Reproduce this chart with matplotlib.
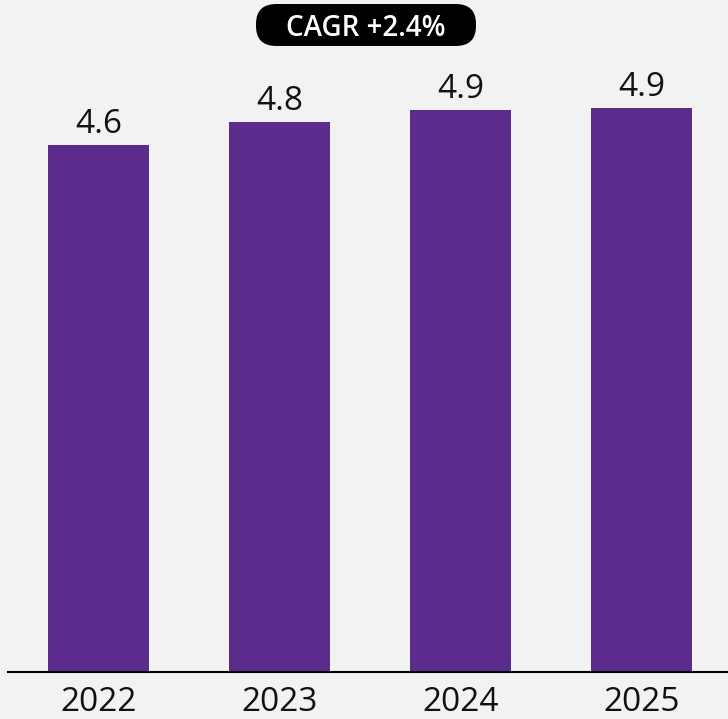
import matplotlib.pyplot as plt
from matplotlib.patches import FancyBboxPatch

# Yearly values and labels
years = ['2022', '2023', '2024', '2025']
values = [4.6, 4.8, 4.9, 4.92]
cagr_text = 'CAGR +2.4%'

BG = '#f2f2f2'
BAR_COLOR = '#5b2c8c'

plt.rcParams['font.family'] = ['Open Sans', 'DejaVu Sans']

fig = plt.figure(figsize=(7.28, 7.19), dpi=100, facecolor=BG)
ax = fig.add_axes([8 / 728, 47 / 719, 720 / 728, 672 / 719])
ax.set_facecolor(BG)

x = list(range(len(years)))
bars = ax.bar(x, values, width=0.558, color=BAR_COLOR, zorder=2)

for rect, v in zip(bars, values):
    ax.annotate(f'{v:.1f}', (rect.get_x() + rect.get_width() / 2, v),
                xytext=(0, 3), textcoords='offset points',
                ha='center', va='bottom', fontsize=24, color='#111111')

ax.set_xlim(-0.5, 3.478)
ax.set_ylim(0, 672 / 114.6)

ax.set_xticks(x)
ax.set_xticklabels(years, fontsize=24, color='#111111')
ax.tick_params(axis='x', length=0, pad=10)
ax.set_yticks([])

for side in ['top', 'right', 'left']:
    ax.spines[side].set_visible(False)
ax.spines['bottom'].set_color('black')
ax.spines['bottom'].set_linewidth(1.5)

# Growth badge above the bars
pill = FancyBboxPatch((256 / 728, 1 - 46 / 719), 220 / 728, 42 / 719,
                      boxstyle='round,pad=0,rounding_size=0.028',
                      transform=fig.transFigure, facecolor='black',
                      edgecolor='none', mutation_aspect=719 / 728)
fig.patches.append(pill)
fig.text(366 / 728, 1 - 28 / 719, cagr_text, ha='center', va='center',
         fontsize=20, fontweight='semibold', color='white')

fig.savefig('out.png', dpi=100, facecolor=BG)
